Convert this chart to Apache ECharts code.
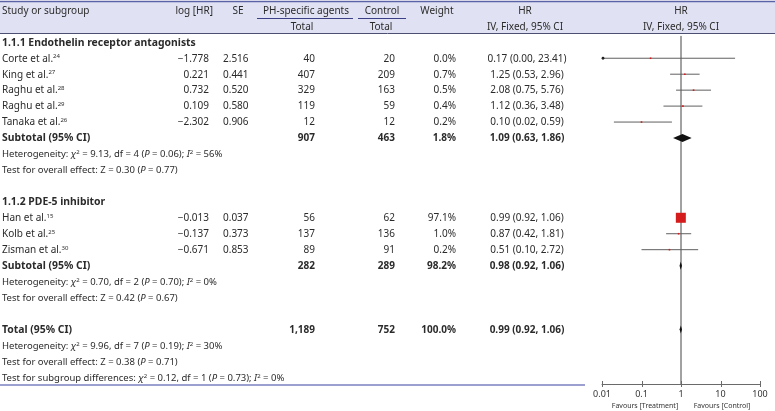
<!DOCTYPE html>
<html>
<head>
<meta charset="utf-8">
<script src="https://cdn.jsdelivr.net/npm/echarts@6/dist/echarts.min.js"></script>
<style>html,body{margin:0;padding:0;background:#fff}#c{width:775px;height:411px}</style>
</head>
<body>
<div id="c"></div>
<script>
// ---------- data ----------
const groupTitles = ["1.1.1 Endothelin receptor antagonists", "1.1.2 PDE-5 inhibitor"];
const studyNames = ["Corte et al.", "King et al.", "Raghu et al.", "Raghu et al.", "Tanaka et al.", "Han et al.", "Kolb et al.", "Zisman et al."];
const studyRefs = ["24", "27", "28", "29", "26", "15", "25", "30"];
const logHR = [-1.778, 0.221, 0.732, 0.109, -2.302, -0.013, -0.137, -0.671];
const seVals = [2.516, 0.441, 0.520, 0.580, 0.906, 0.037, 0.373, 0.853];
const totalTreat = [40, 407, 329, 119, 12, 56, 137, 89];
const totalCtrl = [20, 209, 163, 59, 12, 62, 136, 91];
const weights = [0.0, 0.7, 0.5, 0.4, 0.2, 97.1, 1.0, 0.2];
const hrVals = [0.17, 1.25, 2.08, 1.12, 0.10, 0.99, 0.87, 0.51];
const ciLow = [0.00, 0.53, 0.75, 0.36, 0.02, 0.92, 0.42, 0.10];
const ciHigh = [23.41, 2.96, 5.76, 3.48, 0.59, 1.06, 1.81, 2.72];

const summaryLabels = ["Subtotal (95% CI)", "Subtotal (95% CI)", "Total (95% CI)"];
const summaryTreat = ["907", "282", "1,189"];
const summaryCtrl = ["463", "289", "752"];
const summaryWeight = [1.8, 98.2, 100.0];
const summaryHR = [1.09, 0.98, 0.99];
const summaryLow = [0.63, 0.92, 0.92];
const summaryHigh = [1.86, 1.06, 1.06];

const hetChi2 = ["9.13", "0.70", "9.96"];
const hetDf = ["4", "2", "7"];
const hetP = ["0.06", "0.70", "0.19"];
const hetI2 = ["56", "0", "30"];
const testZ = ["0.30", "0.42", "0.38"];
const testP = ["0.77", "0.67", "0.71"];
const subgroupDiff = {chi2: "0.12", df: "1", p: "0.73", i2: "0"};

const axisTicks = [0.01, 0.1, 1, 10, 100];

// ---------- row layout ----------
const groupRows = [0, 10];
const studyRows = [1, 2, 3, 4, 5, 11, 12, 13];
const summaryRows = [6, 14, 18];
const hetRows = [7, 15, 19];
const testRows = [8, 16, 20];
const subgroupRow = 21;

const FONT = '"Noto Sans", "Open Sans", sans-serif';
const TXT = '#2b2b2b';
const col = {label: 2, log: 209, se: 223, treat: 315, ctrl: 395, weight: 456, hr: 527};
const SMALL = 9.5;

const fmtMinus = v => (v < 0 ? '\u2212' : '') + Math.abs(v).toFixed(3);
const fmtHR = (h, l, u) => h.toFixed(2) + ' (' + l.toFixed(2) + ', ' + u.toFixed(2) + ')';

const textItems = [];
function addText(x, row, text, align, opts) {
  textItems.push(Object.assign({x: x, row: row, text: text, align: align, size: 10, weight: 'normal'}, opts || {}));
}
const richStyles = {
  sup: {fontSize: 6, fontFamily: FONT, fill: TXT, verticalAlign: 'top', padding: [0, 0, 4, 0]},
  i: {fontStyle: 'italic', fontSize: SMALL, fontFamily: FONT, fill: TXT},
  n: {fontSize: SMALL, fontFamily: FONT, fill: TXT}
};

groupTitles.forEach((t, g) => addText(col.label, groupRows[g], t, 'left', {weight: 'bold', size: 10.4}));
studyNames.forEach((n, i) => {
  const r = studyRows[i];
  addText(col.label, r, '{m|' + n + '}{sup|' + studyRefs[i] + '}', 'left', {rich: true});
  addText(col.log, r, fmtMinus(logHR[i]), 'right');
  addText(col.se, r, seVals[i].toFixed(3), 'left');
  addText(col.treat, r, String(totalTreat[i]), 'right');
  addText(col.ctrl, r, String(totalCtrl[i]), 'right');
  addText(col.weight, r, weights[i].toFixed(1) + '%', 'right');
  addText(col.hr, r, fmtHR(hrVals[i], ciLow[i], ciHigh[i]), 'center');
});
summaryLabels.forEach((s, k) => {
  const r = summaryRows[k];
  addText(col.label, r, s, 'left', {weight: 'bold', size: 10.4});
  addText(col.treat, r, summaryTreat[k], 'right', {weight: 'bold'});
  addText(col.ctrl, r, summaryCtrl[k], 'right', {weight: 'bold'});
  addText(col.weight, r, summaryWeight[k].toFixed(1) + '%', 'right', {weight: 'bold'});
  addText(col.hr, r, fmtHR(summaryHR[k], summaryLow[k], summaryHigh[k]), 'center', {weight: 'bold'});
  addText(col.label, hetRows[k], '{n|Heterogeneity: }{i|\u03c7}{sup|2}{n| = ' + hetChi2[k] + ', df = ' + hetDf[k] + ' (}{i|P}{n| = ' + hetP[k] + '); }{i|I}{sup|2}{n| = ' + hetI2[k] + '%}', 'left', {rich: true, size: SMALL});
  addText(col.label, testRows[k], '{n|Test for overall effect: Z = ' + testZ[k] + ' (}{i|P}{n| = ' + testP[k] + ')}', 'left', {rich: true, size: SMALL});
});
addText(col.label, subgroupRow, '{n|Test for subgroup differences: }{i|\u03c7}{sup|2}{n| = ' + subgroupDiff.chi2 + ', df = ' + subgroupDiff.df + ' (}{i|P}{n| = ' + subgroupDiff.p + '); }{i|I}{sup|2}{n| = ' + subgroupDiff.i2 + '%}', 'left', {rich: true, size: SMALL});

const Y_MIN = -0.52, Y_MAX = 21.42;

const studyData = hrVals.map((h, i) => [h, ciLow[i], ciHigh[i], studyRows[i], weights[i]]);
const summaryData = summaryHR.map((h, k) => [h, summaryLow[k], summaryHigh[k], summaryRows[k]]);

const chart = echarts.init(document.getElementById('c'), null, {renderer: 'canvas'});

const tableGridTop = 34, tableGridBottom = 27;

const option = {
  animation: false,
  backgroundColor: '#ffffff',
  grid: [
    {left: 0, right: 0, top: tableGridTop, bottom: tableGridBottom},
    {left: 602, right: 15, top: tableGridTop, bottom: tableGridBottom}
  ],
  xAxis: [
    {gridIndex: 0, type: 'value', min: 0, max: 775, show: false, axisLine: {onZero: false}},
    {gridIndex: 1, type: 'log', logBase: 10, min: 0.01, max: 100, position: 'bottom',
      axisLine: {show: true, onZero: false, lineStyle: {color: '#6a6a6a', width: 1}},
      axisTick: {show: false},
      splitLine: {show: false}, minorTick: {show: false},
      axisLabel: {show: true, margin: 6, fontSize: 9, fontFamily: FONT, color: '#333',
        formatter: v => { const t = axisTicks.find(a => Math.abs(Math.log10(a) - Math.log10(v)) < 1e-6); return t === undefined ? '' : String(t); }}
    }
  ],
  yAxis: [
    {gridIndex: 0, type: 'value', min: Y_MIN, max: Y_MAX, inverse: true, show: false, axisLine: {onZero: false}},
    {gridIndex: 1, type: 'value', min: Y_MIN, max: Y_MAX, inverse: true, show: false, axisLine: {onZero: false}}
  ],
  graphic: [
    {type: 'rect', shape: {x: 0, y: 2, width: 775, height: 31}, style: {fill: '#e0e2f3'}, z: -10},
    {type: 'line', shape: {x1: 0, y1: 1.5, x2: 775, y2: 1.5}, style: {stroke: '#5b62a6', lineWidth: 1.5}},
    {type: 'line', shape: {x1: 0, y1: 33.5, x2: 775, y2: 33.5}, style: {stroke: '#4c4f72', lineWidth: 1}},
    {type: 'line', shape: {x1: 257, y1: 18.5, x2: 353, y2: 18.5}, style: {stroke: '#3a3f86', lineWidth: 1}},
    {type: 'line', shape: {x1: 358, y1: 18.5, x2: 406, y2: 18.5}, style: {stroke: '#3a3f86', lineWidth: 1}},
    {type: 'line', shape: {x1: 0, y1: 385, x2: 585, y2: 385}, style: {stroke: '#7b81c2', lineWidth: 1.5}},
    {type: 'text', x: 2, y: 11, style: {text: 'Study or subgroup', font: '10px ' + FONT, fill: TXT, align: 'left', verticalAlign: 'middle'}},
    {type: 'text', x: 213, y: 11, style: {text: 'log [HR]', font: '10px ' + FONT, fill: TXT, align: 'right', verticalAlign: 'middle'}},
    {type: 'text', x: 238, y: 11, style: {text: 'SE', font: '10px ' + FONT, fill: TXT, align: 'center', verticalAlign: 'middle'}},
    {type: 'text', x: 306, y: 11, style: {text: 'PH-specific agents', font: '10px ' + FONT, fill: TXT, align: 'center', verticalAlign: 'middle'}},
    {type: 'text', x: 382, y: 11, style: {text: 'Control', font: '10px ' + FONT, fill: TXT, align: 'center', verticalAlign: 'middle'}},
    {type: 'text', x: 437, y: 11, style: {text: 'Weight', font: '10px ' + FONT, fill: TXT, align: 'center', verticalAlign: 'middle'}},
    {type: 'text', x: 302, y: 27, style: {text: 'Total', font: '10px ' + FONT, fill: TXT, align: 'center', verticalAlign: 'middle'}},
    {type: 'text', x: 381, y: 27, style: {text: 'Total', font: '10px ' + FONT, fill: TXT, align: 'center', verticalAlign: 'middle'}},
    {type: 'text', x: 525, y: 11, style: {text: 'HR', font: '10px ' + FONT, fill: TXT, align: 'center', verticalAlign: 'middle'}},
    {type: 'text', x: 525, y: 27, style: {text: 'IV, Fixed, 95% CI', font: '10px ' + FONT, fill: TXT, align: 'center', verticalAlign: 'middle'}},
    {type: 'text', x: 681, y: 11, style: {text: 'HR', font: '10px ' + FONT, fill: TXT, align: 'center', verticalAlign: 'middle'}},
    {type: 'text', x: 681, y: 27, style: {text: 'IV, Fixed, 95% CI', font: '10px ' + FONT, fill: TXT, align: 'center', verticalAlign: 'middle'}},
    {type: 'text', x: 645, y: 406, style: {text: 'Favours [Treatment]', font: '7px ' + FONT, fill: '#333', align: 'center', verticalAlign: 'middle'}},
    {type: 'text', x: 722, y: 406, style: {text: 'Favours [Control]', font: '7px ' + FONT, fill: '#333', align: 'center', verticalAlign: 'middle'}}
  ],
  series: [
    {
      type: 'custom', xAxisIndex: 0, yAxisIndex: 0, silent: true,
      data: textItems.map(t => [t.x, t.row]),
      encode: {x: 0, y: 1},
      renderItem: function (params, api) {
        const t = textItems[params.dataIndex];
        const p = api.coord([api.value(0), api.value(1)]);
        const style = {
          text: t.text, fill: TXT, fontSize: t.size, fontFamily: FONT, fontWeight: t.weight,
          align: t.align, verticalAlign: 'middle'
        };
        if (t.rich) {
          style.rich = Object.assign({m: {fontSize: t.size, fontFamily: FONT, fill: TXT}}, richStyles);
        }
        return {type: 'text', x: p[0], y: p[1] + 0.5, style: style};
      }
    },
    {
      type: 'line', xAxisIndex: 1, yAxisIndex: 1, silent: true, symbol: 'none', z: 1,
      data: [[1, -0.4], [1, Y_MAX]],
      lineStyle: {color: '#444', width: 1}
    },
    {
      // axis ticks crossing the axis line
      type: 'custom', xAxisIndex: 1, yAxisIndex: 1, silent: true, z: 2, clip: false,
      data: axisTicks.map(v => [v, Y_MAX]), encode: {x: 0, y: 1},
      renderItem: function (params, api) {
        const p = api.coord([api.value(0), api.value(1)]);
        const x = Math.round(p[0]) + 0.5;
        return {type: 'line', shape: {x1: x, y1: p[1] - 3, x2: x, y2: p[1] + 3}, style: {stroke: '#6a6a6a', lineWidth: 1}};
      }
    },
    {
      type: 'custom', xAxisIndex: 1, yAxisIndex: 1, silent: true, z: 3,
      data: studyData, encode: {x: 0, y: 3}, clip: false,
      renderItem: function (params, api) {
        const h = api.value(0), lo = api.value(1), hi = api.value(2), row = api.value(3), w = api.value(4);
        const loC = Math.max(lo, 0.01), hiC = Math.min(hi, 100);
        const pl = api.coord([loC, row]), ph = api.coord([hiC, row]), pc = api.coord([h, row]);
        const s = Math.max(1.6, Math.sqrt(w / 97.1) * 10);
        const children = [
          {type: 'line', shape: {x1: pl[0], y1: pl[1], x2: ph[0], y2: ph[1]}, style: {stroke: '#606060', lineWidth: 1}},
          {type: 'rect', shape: {x: pc[0] - s / 2, y: pc[1] - s / 2, width: s, height: s}, style: {fill: '#d41c1c'}}
        ];
        if (lo < 0.01) {
          children.push({type: 'circle', shape: {cx: pl[0] + 1, cy: pl[1], r: 1.4}, style: {fill: '#222'}});
        }
        return {type: 'group', children: children};
      }
    },
    {
      type: 'custom', xAxisIndex: 1, yAxisIndex: 1, silent: true, z: 3,
      data: summaryData, encode: {x: 0, y: 3},
      renderItem: function (params, api) {
        const h = api.value(0), lo = api.value(1), hi = api.value(2), row = api.value(3);
        const pl = api.coord([lo, row]), ph = api.coord([hi, row]), pc = api.coord([h, row]);
        const hh = 4;
        return {type: 'polygon', shape: {points: [[pl[0], pl[1]], [pc[0], pc[1] - hh], [ph[0], ph[1]], [pc[0], pc[1] + hh]]}, style: {fill: '#111'}};
      }
    }
  ]
};
chart.setOption(option);
</script>
</body>
</html>
